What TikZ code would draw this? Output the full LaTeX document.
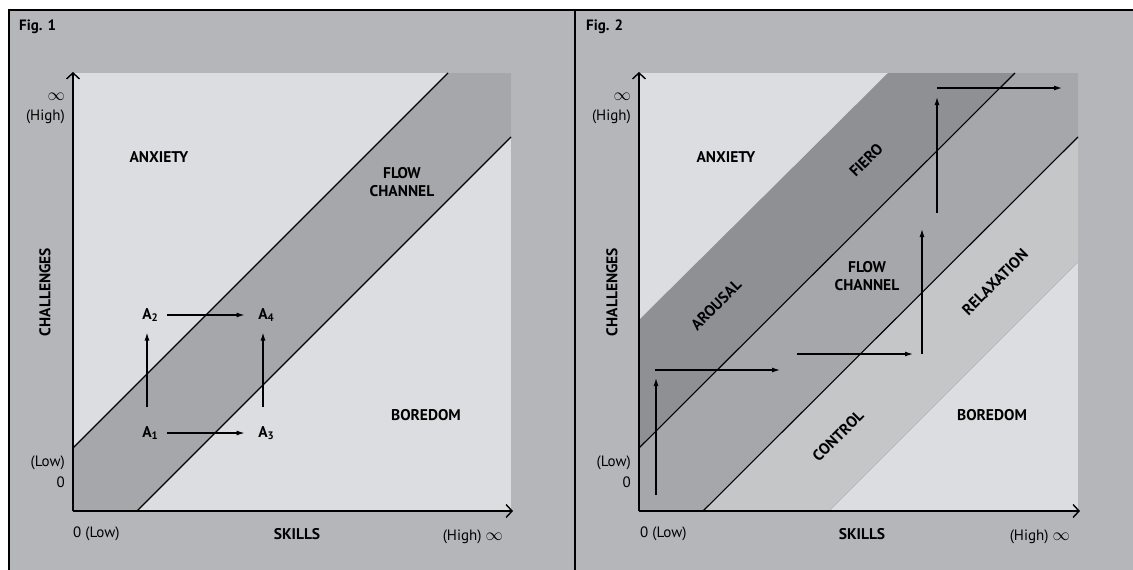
\documentclass[tikz,border=0pt]{standalone}
\usepackage{fontspec}
\setmainfont{PT Sans}
\usepackage{xcolor}
\usetikzlibrary{arrows.meta}

\definecolor{paneGray}{HTML}{B5B6BA}
\definecolor{plotLight}{HTML}{DCDDE0}
\definecolor{flowGray}{HTML}{A6A7AB}
\definecolor{arousalGray}{HTML}{8F9094}
\definecolor{controlGray}{HTML}{C5C6C8}

\newcommand{\inftysym}{{\fontsize{18}{18}\selectfont$\infty$}}

\begin{document}
\begin{tikzpicture}[x=1pt, y=-1pt,
    every node/.style={font=\fontsize{15}{17}\selectfont, inner sep=0pt},
    region/.style={font=\fontsize{15.5}{18}\selectfont\bfseries, align=center},
    state/.style={font=\fontsize{15.5}{17}\selectfont\bfseries},
    title/.style={font=\fontsize{15}{17}\selectfont\bfseries, anchor=west},
    border/.style={line width=2pt},
    axis/.style={line width=1.4pt, -{Straight Barb[length=6pt,width=13pt]}},
    diag/.style={line width=1.1pt},
    move/.style={line width=1.2pt, -{Latex[length=8pt,width=5pt]}},
    hmove/.style={move, shorten <=15pt, shorten >=13.5pt},
    vmove/.style={move, shorten <=18.5pt, shorten >=10.5pt}
]
\useasboundingbox (0,0) rectangle (1133,570);
\fill[white] (0,0) rectangle (1133,570);
\fill[paneGray] (9,10) rectangle (1133,570);

% Fig. 1
\fill[plotLight] (73,73) rectangle (511,511);
\fill[flowGray] (73,448) -- (448,73) -- (511,73) -- (511,137) -- (137,511) -- (73,511) -- cycle;
\draw[diag] (73,448) -- (448,73);
\draw[diag] (137,511) -- (511,137);
\draw[axis] (73,511) -- (73,72);
\draw[axis] (73,511) -- (513,511);

\node[title] (fig1) at (19,27) {Fig. 1};
\node[anchor=east] (inf1) at (65,97) {\inftysym};
\node[anchor=east] (high1) at (65,117) {(High)};
\node[anchor=east] (low1) at (65,463) {(Low)};
\node[anchor=east] (zero1) at (65,482) {0};
\node[anchor=west] (xlow1) at (73,534) {0 (Low)};
\node[anchor=east] (xhigh1) at (503,537) {(High) \inftysym};
\node[region] (skills1) at (297,534) {SKILLS};
\node[region, rotate=90] (chal1) at (45,292) {CHALLENGES};
\node[region] (anx1) at (159,157) {ANXIETY};
\node[region] (flow1) at (402,182) {FLOW\\CHANNEL};
\node[region] (bore1) at (426,415) {BOREDOM};

\node[state] (a1) at (147,433) {A\rlap{\textsubscript{1}}};
\node[state] (a2) at (147,315) {A\rlap{\textsubscript{2}}};
\node[state] (a3) at (263,433) {A\rlap{\textsubscript{3}}};
\node[state] (a4) at (263,315) {A\rlap{\textsubscript{4}}};
\draw[hmove] (a1) -- (a3);
\draw[hmove] (a2) -- (a4);
\draw[vmove] (a1) -- (a2);
\draw[vmove] (a3) -- (a4);

% Fig. 2
\fill[plotLight] (639,73) rectangle (1078,511);
\fill[arousalGray] (639,320) -- (888,73) -- (1015,73) -- (639,448) -- cycle;
\fill[flowGray] (639,448) -- (1015,73) -- (1078,73) -- (1078,137) -- (703,511) -- (639,511) -- cycle;
\fill[controlGray] (703,511) -- (1078,137) -- (1078,262) -- (829,511) -- cycle;
\draw[line width=0.6pt, color=flowGray!80!plotLight] (829,511) -- (1078,262);
\draw[diag] (639,448) -- (1015,73);
\draw[diag] (703,511) -- (1078,137);
\draw[axis] (639,511) -- (639,72);
\draw[axis] (639,511) -- (1080,511);

\node[title] (fig2) at (586,27) {Fig. 2};
\node[anchor=east] (inf2) at (631,97) {\inftysym};
\node[anchor=east] (high2) at (631,117) {(High)};
\node[anchor=east] (low2) at (631,463) {(Low)};
\node[anchor=east] (zero2) at (631,482) {0};
\node[anchor=west] (xlow2) at (640,534) {0 (Low)};
\node[anchor=east] (xhigh2) at (1070,537) {(High) \inftysym};
\node[region] (skills2) at (862,534) {SKILLS};
\node[region, rotate=90] (chal2) at (612,292) {CHALLENGES};
\node[region] (anx2) at (726,157) {ANXIETY};
\node[region, rotate=45] (arousal) at (716,305) {AROUSAL};
\node[region, rotate=45] (fiero) at (866,160) {FIERO};
\node[region] (flow2) at (867,276) {FLOW\\CHANNEL};
\node[region, rotate=45] (control) at (838,436) {CONTROL};
\node[region, rotate=45] (relax) at (995,282) {RELAXATION};
\node[region] (bore2) at (992,415) {BOREDOM};

\coordinate (p1) at (656,495);
\coordinate (p2) at (656,378);
\coordinate (p3) at (655,370);
\coordinate (p4) at (780,370);
\coordinate (p5) at (797,354);
\coordinate (p6) at (913,354);
\coordinate (p7) at (922,354);
\coordinate (p8) at (922,229);
\coordinate (p9) at (937,213);
\coordinate (p10) at (937,97);
\coordinate (p11) at (937,88);
\coordinate (p12) at (1062,88);
\draw[move] (p1) -- (p2);
\draw[move] (p3) -- (p4);
\draw[move] (p5) -- (p6);
\draw[move] (p7) -- (p8);
\draw[move] (p9) -- (p10);
\draw[move] (p11) -- (p12);

% frame
\draw[border] (9,570) -- (9,10) -- (1133,10);
\draw[border] (575,10) -- (575,570);
\end{tikzpicture}
\end{document}
